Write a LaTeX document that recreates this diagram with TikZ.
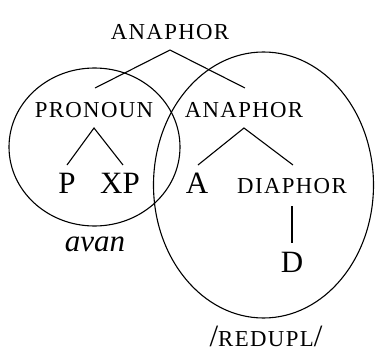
\documentclass[tikz,border=0pt]{standalone}
\usepackage{fontspec}
\setmainfont{Liberation Serif}
\newfontfamily\scfont[LetterSpace=6]{Liberation Serif}
\begin{document}
\begin{tikzpicture}[x=0.5pt,y=-0.5pt,
  lbl/.style={anchor=base,inner sep=0pt,font=\fontsize{15.5}{18}\selectfont},
  sc/.style={anchor=base,inner sep=0pt,font=\scfont\fontsize{11.4}{13}\selectfont},
  edge/.style={line width=0.55pt}]
\useasboundingbox (0,0) rectangle (377,354);
\node[sc] (top) at (170,39) {ANAPHOR};
\node[sc] (pro) at (94,117) {PRONOUN};
\node[sc] (ana) at (244,117) {ANAPHOR};
\node[lbl] (p) at (67,193) {P};
\node[lbl] (xp) at (120,193) {XP};
\node[lbl] (a) at (197,193) {A};
\node[sc] (dia) at (292,193) {DIAPHOR};
\node[lbl] (d) at (292,272) {D};
\node[lbl] (avan) at (95,252) {\textit{avan}};
\node[lbl] (red) at (266,347) {/{\scfont\fontsize{11.4}{13}\selectfont REDUPL}/};
\coordinate (t0) at (170,50);
\coordinate (t1) at (95,88);
\coordinate (t2) at (245,88);
\coordinate (p0) at (94,128);
\coordinate (p1) at (67,165);
\coordinate (p2) at (123,165);
\coordinate (a0) at (244,128);
\coordinate (a1) at (198,165);
\coordinate (a2) at (293,165);
\coordinate (d0) at (292,206);
\coordinate (d1) at (292,243);
\draw[edge] (t1) -- (t0) -- (t2);
\draw[edge] (p1) -- (p0) -- (p2);
\draw[edge] (a1) -- (a0) -- (a2);
\draw[edge] (d0) -- (d1);
\draw[edge] (94.5,147) ellipse [x radius=85.5, y radius=79];
\draw[edge] (263.5,185) ellipse [x radius=110, y radius=133];
\end{tikzpicture}
\end{document}
